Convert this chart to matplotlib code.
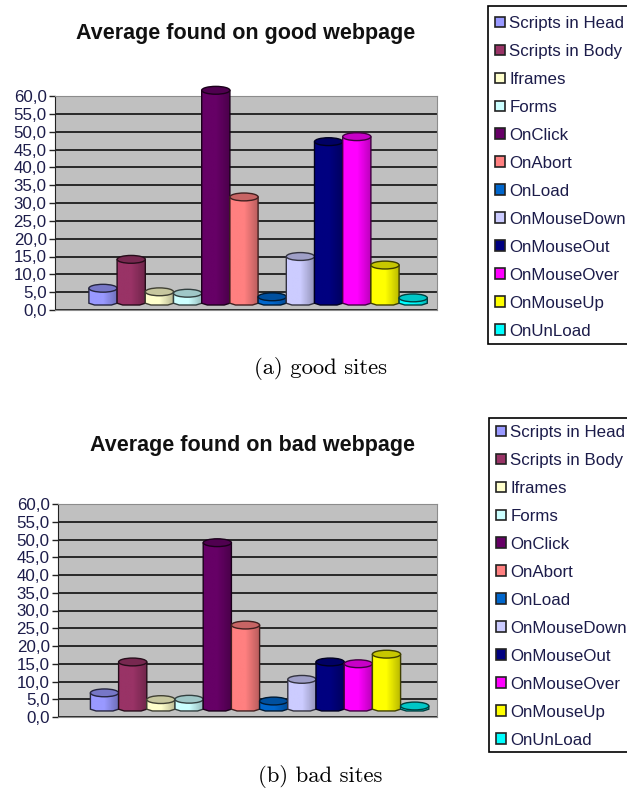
import matplotlib
matplotlib.use("Agg")
import matplotlib.pyplot as plt
import numpy as np
from matplotlib.colors import LinearSegmentedColormap, to_rgb
from matplotlib.patches import Ellipse, Patch, Polygon, Rectangle

# average number of occurrences per page
labels = ["Scripts in Head", "Scripts in Body", "Iframes", "Forms", "OnClick", "OnAbort",
          "OnLoad", "OnMouseDown", "OnMouseOut", "OnMouseOver", "OnMouseUp", "OnUnLoad"]
good = [4.7, 12.8, 3.7, 3.3, 60.2, 30.3, 2.3, 13.6, 45.8, 47.2, 11.2, 2.0]
bad = [5.1, 13.8, 3.2, 3.3, 47.4, 24.2, 2.8, 8.9, 13.8, 13.3, 16.0, 1.4]
colors = ["#9999FF", "#993366", "#FFFFCC", "#CCFFFF", "#660066", "#FF8080",
          "#0066CC", "#CCCCFF", "#000080", "#FF00FF", "#FFFF00", "#00FFFF"]
ticks = np.arange(0, 65, 5)

W, H = 627, 788
plt.rcParams["font.family"] = ["Liberation Sans", "DejaVu Sans"]
fig = plt.figure(figsize=(W / 100, H / 100), dpi=100, facecolor="white")


def darker(c, k):
    return tuple(v * k for v in to_rgb(c))


def cylinder(ax, x, val, color, lift, width=1.0, cap=2.2):
    l, r = x - width / 2, x + width / 2
    top = lift + val
    z = 3 + x * 0.01
    outline = darker(color, 0.25)
    corners = [(l, top), (r, top), (r, lift + 0.5), (r - 0.2, lift), (l + 0.2, lift), (l, lift + 0.5)]
    # the tallest bar pokes out above the wall, so nothing here clips to the axes
    body = Polygon(corners, closed=True, fc="none", ec="none", zorder=z, clip_on=False)
    ax.add_patch(body)
    cmap = LinearSegmentedColormap.from_list("shade", [color, color, darker(color, 0.72)])
    img = ax.imshow(np.linspace(0, 1, 64).reshape(1, -1), cmap=cmap, aspect="auto",
                    extent=(l, r, lift, top), zorder=z)
    img.set_clip_box(fig.bbox)
    img.set_clip_path(body)
    ax.add_patch(Polygon(corners, closed=True, fc="none", ec=outline, lw=1.0, zorder=z, clip_on=False))
    ax.add_patch(Ellipse((x, top), width, cap, fc=darker(color, 0.78), ec=outline, lw=1.0,
                         zorder=z, clip_on=False))


def chart(values, box, first_x, lift, title, title_xy, frame, leg_top):
    x0, x1, y0, y1 = box  # left, right, top, bottom in pixels
    ax = fig.add_axes([x0 / W, 1 - y1 / H, (x1 - x0) / W, (y1 - y0) / H])
    step = 28.2
    ax.set_facecolor("#C0C0C0")
    ax.set_axisbelow(True)
    ax.grid(axis="y", color="black", lw=1.1)
    for i, (v, c) in enumerate(zip(values, colors)):
        cylinder(ax, i, v, c, lift)
    ax.set_xlim((x0 - first_x) / step, (x1 - first_x) / step)
    ax.set_ylim(0, 60)
    ax.set_yticks(ticks)
    ax.set_yticklabels([f"{t},0" for t in ticks], fontsize=12.2, color="#1c1c4a")
    ax.set_xticks([])
    ax.tick_params(axis="y", length=4, width=1, color="#222222", pad=2)
    for side in ["top", "right", "bottom"]:
        ax.spines[side].set_color("#8c8c8c")
    ax.spines["left"].set_color("#222222")

    fig.text(title_xy[0] / W, 1 - title_xy[1] / H, title, fontsize=15.5, fontweight="bold",
             ha="center", va="center", color="#111111")

    # legend box runs off the right edge of the page
    fl, ft, fb = frame
    fig.add_artist(Rectangle((fl / W, 1 - fb / H), (W + 20 - fl) / W, (fb - ft) / H,
                             transform=fig.transFigure, fc="white", ec="black", lw=1.2))
    handles = [Patch(fc=c, ec="#222222", lw=1.2) for c in colors]
    leg = fig.legend(handles, labels, loc="upper left",
                     bbox_to_anchor=((fl + 7) / W, 1 - leg_top / H),
                     fontsize=12.2, frameon=False, borderaxespad=0, borderpad=0, labelspacing=0.765,
                     handlelength=0.6, handleheight=0.6, handletextpad=0.24)
    for t in leg.get_texts():
        t.set_color("#1c1c4a")


chart(good, (55, 437, 96, 310), 103, 1.4, "Average found on good webpage", (246, 33), (488, 6, 344), 16)
chart(bad, (58, 437, 504, 717), 104.5, 1.7, "Average found on bad webpage", (253, 445), (489, 418, 752), 425)

fig.text(320 / W, 1 - 368 / H, "(a) good sites", family="cmr10", fontsize=16.3, ha="center", va="center")
fig.text(320 / W, 1 - 776 / H, "(b) bad sites", family="cmr10", fontsize=16.3, ha="center", va="center")

fig.savefig("out.png", dpi=100)
